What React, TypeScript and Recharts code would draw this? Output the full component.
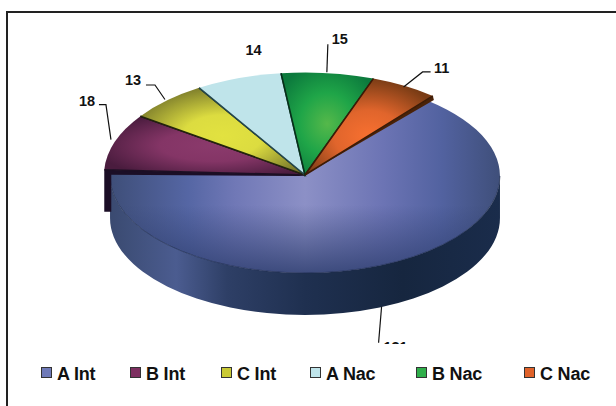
import { Legend, Pie, PieChart } from "recharts";

const categories = ["A Int", "B Int", "C Int", "A Nac", "B Nac", "C Nac"];
const values = [131, 18, 13, 14, 15, 11];
// the lowest label is cut off by the legend box in the source, only the tops of its digits show
const valueLabels = ["131", "18", "13", "14", "15", "11"];
const swatchColors = ["#6f7ab8", "#7d2f60", "#c9c934", "#bfe4ea", "#2fae4a", "#e0622a"];

const chartData = categories.map((name, i) => ({ name, value: values[i], fill: swatchColors[i] }));

const faceFills = ["url(#faceA)", "url(#faceB)", "url(#faceC)", "#bfe4ea", "url(#faceE)", "url(#faceF)"];
const edgeColors = ["none", "#1d0f24", "#23240c", "#24474c", "#07301a", "#3c1b06"];

// pie is viewed from above, so the circle is squashed into an ellipse
const RATIO = 0.51;
const DEPTH = 42;
const BIG_SCALE = 0.97;
const BIG_CY_SHIFT = 1;

// leader line points and text centre, relative to the point on the rim
const labelLayout = [
  { line: [[-2, 0], [-5, 36]], text: [12, 40] },
  { line: [[-4, -2], [-9, -37], [-16, -37]], text: [-28, -41] },
  { line: [[-2, -1], [-12, -15.5], [-21, -15.5]], text: [-34, -20] },
  { line: [], text: [15, -28] },
  { line: [[-1, -1], [0, -29]], text: [12, -34] },
  { line: [[-1, 1], [18, -14], [26, -14]], text: [37, -18] },
];

const legendX = [41, 130, 221, 310, 416, 524];

const rad = Math.PI / 180;

function PieSlice(props: any) {
  const { cx, cy, outerRadius, startAngle, endAngle, index } = props;
  const isBig = index === 0;
  const rx = outerRadius * (isBig ? BIG_SCALE : 1);
  const ry = rx * RATIO * (isBig ? 0.975 : 1);
  const ey = cy + (isBig ? BIG_CY_SHIFT : 0);
  const pt = (a: number) => [cx + rx * Math.cos(a * rad), ey - ry * Math.sin(a * rad)];
  const [sx, sy] = pt(startAngle);
  const [tx, ty] = pt(endAngle);
  const large = Math.abs(endAngle - startAngle) > 180 ? 1 : 0;
  const face = `M${cx},${cy} L${sx},${sy} A${rx},${ry} 0 ${large} 1 ${tx},${ty} Z`;

  if (isBig) {
    const wall =
      `M${cx + rx},${ey} A${rx},${ry} 0 0 1 ${cx - rx},${ey} L${cx - rx},${ey + DEPTH} ` +
      `A${rx},${ry} 0 0 0 ${cx + rx},${ey + DEPTH} Z`;
    const rimLine = `M${cx + rx},${ey} A${rx},${ry} 0 0 1 ${cx - rx},${ey}`;
    return (
      <g>
        <path d={wall} fill="url(#wallA)" />
        <path d={face} fill="url(#faceA)" />
        <path d={face} fill="url(#faceShade)" />
        <path d={rimLine} fill="none" stroke="#1c2b4c" strokeWidth={0.8} strokeOpacity={0.8} />
      </g>
    );
  }

  const edges = `M${sx},${sy} L${cx},${cy} L${tx},${ty}`;
  return (
    <g>
      {index === 1 && (
        <path
          d={`M${sx},${sy} L${cx},${cy} L${cx - 6},${cy + 1} L${sx + 7},${sy + 5} L${sx + 7},${sy + 42} L${sx},${sy + 42} Z`}
          fill="#1b0e26"
        />
      )}
      {index === 5 && <path d={`M${tx},${ty} L${cx},${cy} L${tx + 1},${ty + 4} Z`} fill="#4a2208" />}
      <path d={face} fill={faceFills[index]} />
      <path d={edges} fill="none" stroke={edgeColors[index]} strokeWidth={1.6} />
    </g>
  );
}

function SliceLabel(props: any) {
  const { cx, cy, outerRadius, midAngle, index } = props;
  const isBig = index === 0;
  const rx = outerRadius * (isBig ? BIG_SCALE : 1);
  const ry = rx * RATIO * (isBig ? 0.975 : 1);
  const ax = cx + rx * Math.cos(midAngle * rad);
  const ay = cy + (isBig ? BIG_CY_SHIFT + DEPTH : 0) - ry * Math.sin(midAngle * rad);
  const { line, text } = labelLayout[index];
  return (
    <g>
      {line.length > 0 && (
        <polyline
          points={line.map(([x, y]) => `${ax + x},${ay + y}`).join(" ")}
          fill="none"
          stroke="#111"
          strokeWidth={1.2}
        />
      )}
      <text
        x={ax + text[0]}
        y={ay + text[1]}
        textAnchor="middle"
        dominantBaseline="central"
        fontFamily="Liberation Sans"
        fontWeight="bold"
        fontSize={14.5}
        fill="#111"
      >
        {valueLabels[index]}
      </text>
    </g>
  );
}

function ChartLegend({ payload }: any) {
  return (
    <div style={{ position: "relative", width: 616, height: 62, background: "#fff" }}>
      {(payload || []).map((item: any, i: number) => (
        <div
          key={item.value}
          style={{
            position: "absolute",
            left: legendX[i],
            top: 19,
            display: "flex",
            alignItems: "center",
            fontFamily: "Liberation Sans",
            fontWeight: "bold",
            fontSize: 18,
            lineHeight: "22px",
            letterSpacing: -0.2,
            color: "#111",
            whiteSpace: "nowrap",
          }}
        >
          <span
            style={{
              display: "inline-block",
              width: 9,
              height: 9,
              marginRight: 5,
              marginTop: -4,
              background: swatchColors[i],
              border: "1.5px solid #333",
            }}
          />
          {item.value}
        </div>
      ))}
    </div>
  );
}

export default function App() {
  return (
    <div style={{ position: "absolute", left: 0, top: 0, width: 616, height: 406, background: "#fff", overflow: "hidden" }}>
      <PieChart width={616} height={406} margin={{ top: 0, right: 0, bottom: 0, left: 0 }}>
        <defs>
          <linearGradient id="faceA" gradientUnits="userSpaceOnUse" x1="110" y1="0" x2="500" y2="0">
            <stop offset="0" stopColor="#3e4e78" />
            <stop offset="0.2" stopColor="#5566a4" />
            <stop offset="0.32" stopColor="#7078b6" />
            <stop offset="0.5" stopColor="#8c90c6" />
            <stop offset="0.7" stopColor="#6c74b4" />
            <stop offset="0.85" stopColor="#5262a0" />
            <stop offset="1" stopColor="#3f4f7a" />
          </linearGradient>
          <linearGradient id="faceShade" gradientUnits="userSpaceOnUse" x1="0" y1="205" x2="0" y2="274">
            <stop offset="0" stopColor="#2f3f70" stopOpacity={0} />
            <stop offset="1" stopColor="#2f3f70" stopOpacity={0.85} />
          </linearGradient>
          <linearGradient id="wallA" gradientUnits="userSpaceOnUse" x1="110" y1="0" x2="500" y2="0">
            <stop offset="0" stopColor="#3a4a70" />
            <stop offset="0.17" stopColor="#4b5c90" />
            <stop offset="0.3" stopColor="#2e3f66" />
            <stop offset="0.5" stopColor="#1f3050" />
            <stop offset="0.75" stopColor="#16263f" />
            <stop offset="1" stopColor="#1a2c4b" />
          </linearGradient>
          <radialGradient id="faceB" cx="0.55" cy="0.5" r="0.6">
            <stop offset="0" stopColor="#8b3a6c" />
            <stop offset="0.45" stopColor="#843566" />
            <stop offset="1" stopColor="#4a1c3e" />
          </radialGradient>
          <radialGradient id="faceC" cx="0.5" cy="0.55" r="0.6">
            <stop offset="0" stopColor="#e2e240" />
            <stop offset="0.4" stopColor="#dcdc40" />
            <stop offset="1" stopColor="#75752a" />
          </radialGradient>
          <radialGradient id="faceE" cx="0.5" cy="0.5" r="0.6">
            <stop offset="0" stopColor="#55b84a" />
            <stop offset="0.5" stopColor="#1fa548" />
            <stop offset="1" stopColor="#0c7a3d" />
          </radialGradient>
          <radialGradient id="faceF" cx="0.5" cy="0.6" r="0.6">
            <stop offset="0" stopColor="#f87030" />
            <stop offset="0.45" stopColor="#e0652c" />
            <stop offset="1" stopColor="#7a3c15" />
          </radialGradient>
        </defs>
        <Pie
          data={chartData}
          dataKey="value"
          nameKey="name"
          cx={305}
          cy={175}
          outerRadius={201}
          startAngle={50.5}
          endAngle={-309.5}
          stroke="none"
          shape={PieSlice}
          label={SliceLabel}
          labelLine={false}
          isAnimationActive={false}
        />
        <Legend
          content={<ChartLegend />}
          itemSorter={null}
          wrapperStyle={{ position: "absolute", left: 0, top: 344, width: 616, height: 62 }}
        />
      </PieChart>
      <div
        style={{
          position: "absolute",
          left: 6,
          top: 11,
          width: 610,
          height: 395,
          boxSizing: "border-box",
          borderLeft: "2px solid #222",
          borderTop: "2px solid #222",
          pointerEvents: "none",
        }}
      />
    </div>
  );
}
